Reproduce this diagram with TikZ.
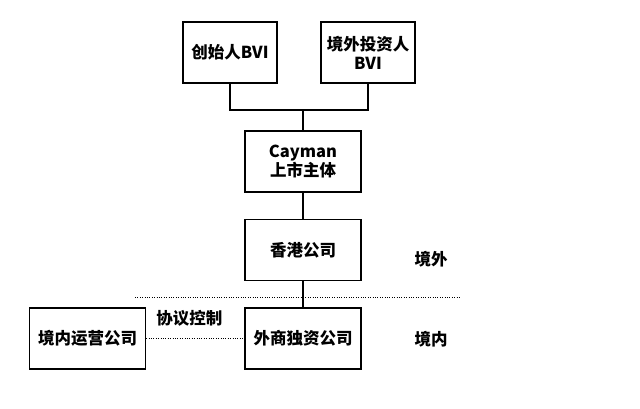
\documentclass[tikz,border=0pt]{standalone}
\usepackage{fontspec}
\setmainfont{Noto Sans CJK SC}
\tikzstyle{company}=[
        draw,
        line width = 1.2pt,
        fill = white,
        minimum width = 94pt,
        minimum height = 61pt,
        align = center,
        font = \fontsize{16.5}{19}\selectfont\bfseries
    ]
\tikzstyle{wide company}=[
    company,
    minimum width = 116pt
]
\tikzstyle{region}=[font = \fontsize{16.5}{19}\selectfont\bfseries]

\begin{document}
\begin{tikzpicture}[x=1pt, y=-1pt, node distance={88.5pt}, line width=1.2pt]
        \useasboundingbox (0,0) rectangle (640,408);
        \node[company] (1) at (230,52.5) {创始人BVI};
        \node[company] (2) [right of = 1, node distance = 138pt] {境外投资人\\BVI};
        \node[wide company] (3) at (303,161.5) {Cayman\\上市主体};
        \node[wide company] (4) [below of = 3] {香港公司};
        \node[wide company] (5) [below of = 4] {外商独资公司};
        \node[wide company] (6) [left of = 5, node distance = 215.5pt] {境内运营公司};
        \node[region] (7) at (431,259) {境外};
        \node[region] (8) at (431,339) {境内};

        \coordinate (j) at (303,110);
        \coordinate (l) at (135,297);
        \coordinate (r) at (460,297);

        \draw (1) |- (j) -| (2);
        \draw (j) -- (3);
        \draw (3) -- (4);
        \draw (4) -- (5);
        \draw[line width = 1pt, dash pattern = on 1pt off 1.4pt] (6) -- (5) node [midway, above = 8pt, xshift = -6pt, region] {协议控制};
        \draw[line width = 1pt, dash pattern = on 1pt off 1.4pt] (l) -- (r);

    \end{tikzpicture}
\end{document}
